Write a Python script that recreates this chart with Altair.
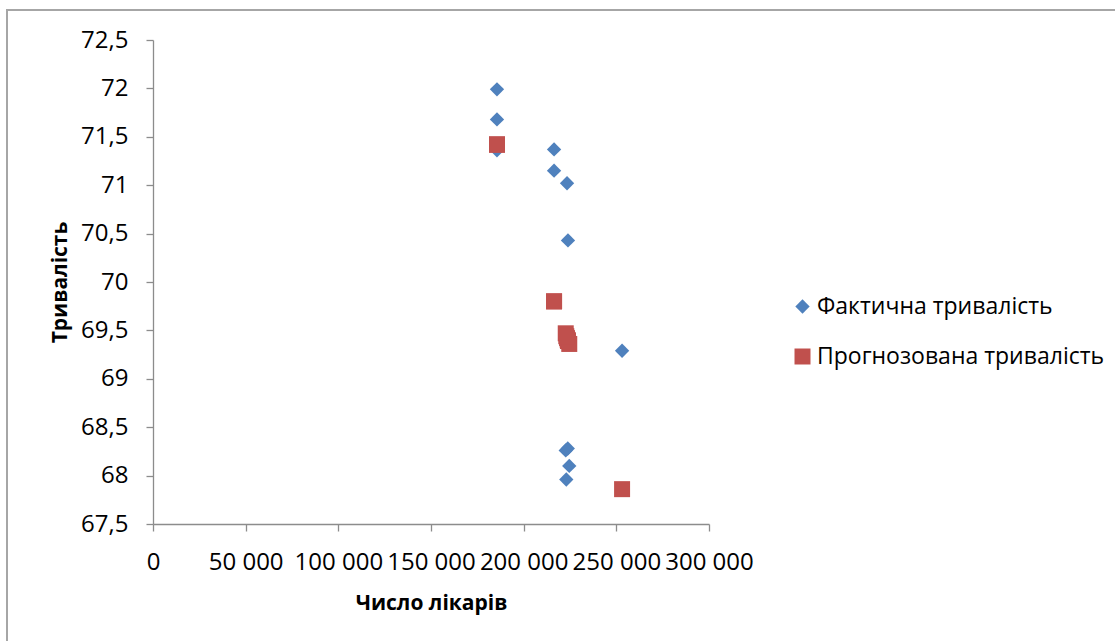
import altair as alt
import pandas as pd

# Number of doctors and life expectancy (actual vs. regression forecast)
doctors = [185600, 185600, 185600, 216400, 216400, 223400,
           223900, 253100, 222700, 223800, 224600, 223000]
actual = [71.99, 71.68, 71.36, 71.37, 71.15, 71.02,
          70.43, 69.29, 68.26, 68.28, 68.10, 67.96]
predicted = [71.42, 71.42, 71.42, 69.80, 69.80, 69.42,
             69.39, 67.86, 69.47, 69.40, 69.36, 69.44]

series_names = ["Фактична тривалість", "Прогнозована тривалість"]
series_colors = ["#4F81BD", "#C0504D"]
series_shapes = ["diamond", "square"]

x_ticks = [0, 50000, 100000, 150000, 200000, 250000, 300000]
y_ticks = [67.5, 68, 68.5, 69, 69.5, 70, 70.5, 71, 71.5, 72, 72.5]

rows = []
for d, v in zip(doctors, actual):
    rows.append({"doctors": d, "value": v, "series": series_names[0]})
for d, v in zip(doctors, predicted):
    rows.append({"doctors": d, "value": v, "series": series_names[1]})
df = pd.DataFrame(rows)

FONT = "Open Sans"
AXIS_GRAY = "#8c8c8c"

W, H = 556, 484
PAD_L, PAD_T = 153, 40

legend_opts = dict(
    title=None, orient="none", legendX=638, legendY=255,
    labelFont=FONT, labelFontSize=23, labelColor="#000000", labelLimit=0,
    symbolSize=144, symbolStrokeWidth=0, labelOffset=3,
    rowPadding=26, padding=0,
)

points = alt.Chart(df).mark_point(filled=True, opacity=1, strokeWidth=0).encode(
    x=alt.X(
        "doctors:Q",
        scale=alt.Scale(domain=[0, 300000], nice=False),
        axis=alt.Axis(
            values=x_ticks,
            labelExpr="replace(format(datum.value, ','), ',', ' ')",
            labelOverlap=False, labelFlush=False,
            title="Число лікарів",
            titleX=278, titleY=79, titleBaseline="middle", titleAlign="center",
            labelPadding=19,
        ),
    ),
    y=alt.Y(
        "value:Q",
        scale=alt.Scale(domain=[67.5, 72.5], nice=False, zero=False),
        axis=alt.Axis(
            values=y_ticks,
            labelExpr="replace(toString(datum.value), '.', ',')",
            labelOverlap=False, labelFlush=False,
            title="Тривалість",
            titleX=-93, titleY=242, titleAngle=-90,
            titleBaseline="middle", titleAlign="center",
            labelPadding=18,
        ),
    ),
    color=alt.Color(
        "series:N",
        scale=alt.Scale(domain=series_names, range=series_colors),
        legend=alt.Legend(**legend_opts),
    ),
    shape=alt.Shape(
        "series:N",
        scale=alt.Scale(domain=series_names, range=series_shapes),
        legend=alt.Legend(**legend_opts),
    ),
    size=alt.Size(
        "series:N",
        scale=alt.Scale(domain=series_names, range=[205, 256]),
        legend=None,
    ),
)

# outer frame of the chart area
frame = alt.Chart(pd.DataFrame({"k": [0]})).mark_rect(
    fill="transparent", stroke="#a6a6a6", strokeWidth=2
).encode(
    x=alt.value(7 - PAD_L), x2=alt.value(1130 - PAD_L),
    y=alt.value(10 - PAD_T), y2=alt.value(660 - PAD_T),
)

chart = alt.layer(frame, points).properties(
    width=W,
    height=H,
    autosize=alt.AutoSizeParams(type="none"),
    padding={"left": PAD_L, "top": PAD_T, "right": 1115 - PAD_L - W, "bottom": 641 - PAD_T - H},
    background="white",
).configure_view(
    strokeWidth=0
).configure_axis(
    grid=False,
    domainColor=AXIS_GRAY,
    domainWidth=1.3,
    tickColor=AXIS_GRAY,
    tickWidth=1.3,
    tickSize=7,
    labelFont=FONT,
    labelFontSize=24,
    labelColor="#000000",
    titleFont=FONT,
    titleFontSize=21,
    titleFontWeight="bold",
    titleColor="#000000",
)

chart.save("out.html", embed_options={"renderer": "svg", "actions": False})
